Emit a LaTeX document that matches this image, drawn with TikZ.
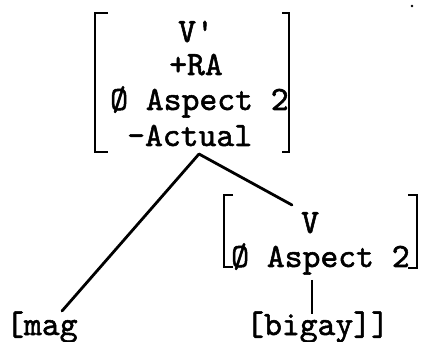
\documentclass[tikz,border=0pt]{standalone}
\usepackage{fontspec}
\newfontfamily\twfont{lmmono10-regular.otf}[FakeBold=1.6]
\begin{document}
\begin{tikzpicture}[x=1pt,y=-1pt,
  tw/.style={inner sep=0pt,anchor=base west,font=\twfont\fontsize{34}{40}\selectfont},
  brk/.style={line width=2.8pt,line cap=butt,line join=miter},
  edge/.style={line width=2.8pt,line cap=round}]
\useasboundingbox (0,0) rectangle (421,342);
% top feature matrix
\node[tw] (t1) at (178,42) {V'};
\node[tw] (t2) at (169,75) {+RA};
\node[tw] (t3) at (110,110) {Ø Aspect 2};
\node[tw] (t4) at (127,146) {-Actual};
\draw[brk] (108,13) -- (95,13) -- (95,152) -- (108,152);
\draw[brk] (282,13) -- (289,13) -- (289,152) -- (282,152);
% bottom right feature matrix
\node[tw] (b1) at (301,233) {V};
\node[tw] (b2) at (231,267) {Ø Aspect 2};
\draw[brk] (233,195) -- (224,195) -- (224,267) -- (233,267);
\draw[brk] (408,195) -- (417,195) -- (417,268) -- (408,268);
% leaves
\node[tw] (mag) at (6,335) {[mag};
\node[tw] (bigay) at (246,335) {[bigay]]};
% connector ends
\coordinate (apex) at (199,154);
\coordinate (magtop) at (62,311);
\coordinate (vtop) at (292,205);
\coordinate (vbot) at (312,280);
\coordinate (bigtop) at (312,314);
\draw[edge] (apex) -- (magtop);
\draw[edge] (apex) -- (vtop);
\draw[line width=2.2pt] (vbot) -- (bigtop);
% speck
\fill (412,6) circle (1.3);
\end{tikzpicture}
\end{document}
